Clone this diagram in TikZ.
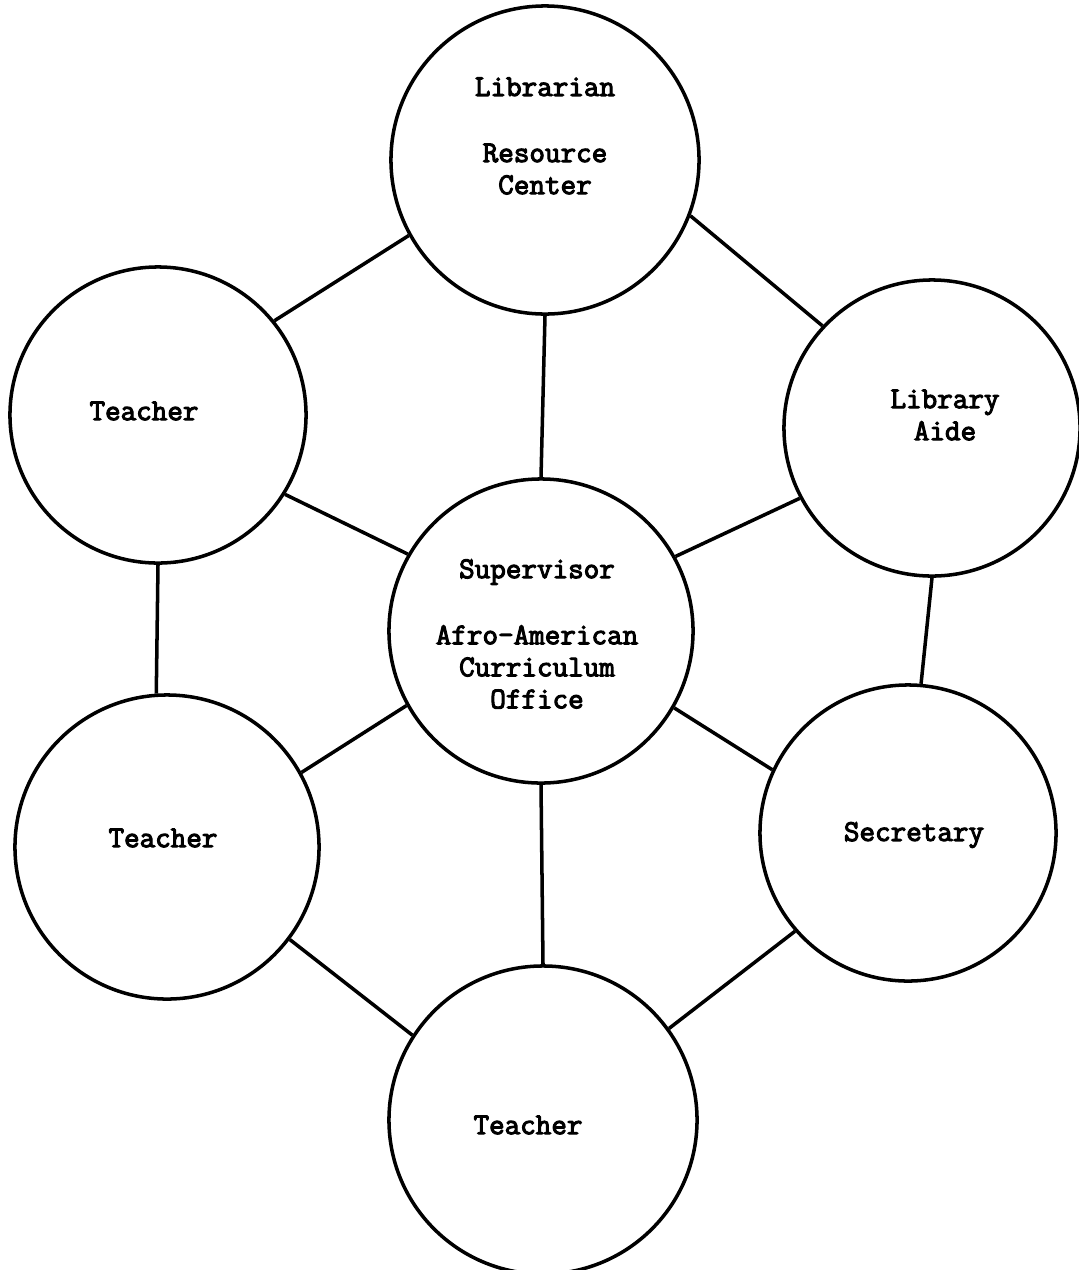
\documentclass[tikz,border=0pt]{standalone}
\usepackage{fontspec}
\newfontfamily\typewriter[FakeBold=3.5]{Latin Modern Mono}
\tikzset{
  member/.style={circle, draw, line width=2.5pt},
  link/.style={line width=2.5pt},
  tag/.style={align=center, font=\typewriter\fontsize{21.5}{22.8}\selectfont}
}
\begin{document}
\begin{tikzpicture}[x=0.025cm, y=-0.025cm]
  \useasboundingbox (0,0) rectangle (1079,1270);
  % circles (name/x/y/size/dx/dy/label)
  \foreach \name/\x/\y/\size/\dx/\dy/\desc in {
    lib/545/160/7.7/0/-24/{Librarian\\[0.85cm]Resource\\Center},
    teacherL/158/415/7.4/-14/-4/{Teacher},
    aide/932/428/7.4/13/-13/{Library\\Aide},
    sup/541/631/7.6/-4/3/{Supervisor\\[0.85cm]Afro-American\\Curriculum\\Office},
    teacherLL/167/847/7.6/-4/-9/{Teacher},
    sec/908/833/7.4/6/2/{Secretary},
    teacherB/543/1120/7.7/-15/5/{Teacher}}
  {
    \node[member, minimum size=\size cm, label={[tag, shift={(\dx,\dy)}]center:{\desc}}] (\name) at (\x,\y) {};
  }
  % links
  \foreach \a/\b in {lib.south/sup.north, lib.209/teacherL.39, lib.-21/aide.137,
    teacherL.-32/sup.150, aide.208/sup.29, teacherL.-90/teacherLL.94,
    aide.-90/sec.85, sup.209/teacherLL.29, sup.-30/sec.155, sup.south/teacherB.north,
    teacherLL.-37/teacherB.147, sec.221/teacherB.36}
    \draw[link] (\a) -- (\b);
\end{tikzpicture}
\end{document}
